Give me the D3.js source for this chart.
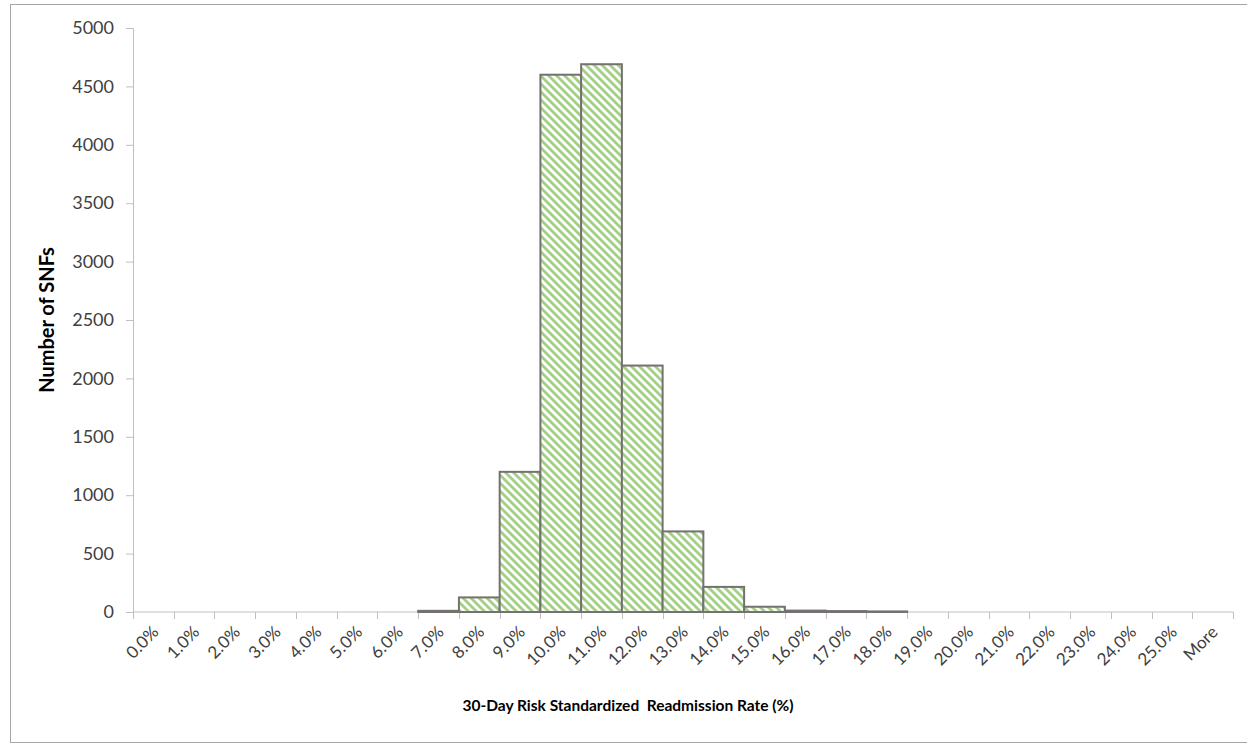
<!DOCTYPE html>
<html>
<head>
<meta charset="utf-8">
<script src="https://cdn.jsdelivr.net/npm/d3@7"></script>
<style>
  body { margin: 0; background: #fff; }
  #chart text { font-family: Lato, "Open Sans", sans-serif; fill: #404040; }
  #chart .title { fill: #000; font-weight: bold; }
</style>
</head>
<body>
<div id="chart"></div>
<script>
// Histogram bins (upper bound labels) and counts
var bins = ["0.0%", "1.0%", "2.0%", "3.0%", "4.0%", "5.0%", "6.0%", "7.0%", "8.0%",
  "9.0%", "10.0%", "11.0%", "12.0%", "13.0%", "14.0%", "15.0%", "16.0%", "17.0%",
  "18.0%", "19.0%", "20.0%", "21.0%", "22.0%", "23.0%", "24.0%", "25.0%", "More"];
var counts = [0, 0, 0, 0, 0, 0, 0, 10, 125,
  1200, 4600, 4690, 2110, 690, 215, 45, 12, 8,
  5, 0, 0, 0, 0, 0, 0, 0, 0];
var yTicks = [0, 500, 1000, 1500, 2000, 2500, 3000, 3500, 4000, 4500, 5000];

var W = 1247, H = 744;
var margin = { top: 28, right: 14, bottom: 132, left: 133 };
var width = W - margin.left - margin.right;
var height = H - margin.top - margin.bottom;

var svg = d3.select("#chart").append("svg")
    .attr("width", W)
    .attr("height", H);

// hatch fill (wide downward diagonal)
var pat = svg.append("defs").append("pattern")
    .attr("id", "hatch")
    .attr("patternUnits", "userSpaceOnUse")
    .attr("width", 8)
    .attr("height", 8);
pat.append("rect").attr("width", 8).attr("height", 8).attr("fill", "#fff");
pat.selectAll("path")
    .data(["M-2,-2L10,10", "M-2,6L2,10", "M6,-2L10,2"])
  .enter().append("path")
    .attr("d", function(d) { return d; })
    .attr("stroke", "#a3cf86")
    .attr("stroke-width", 2.8);

// chart area border
svg.append("rect")
    .attr("x", 10.5).attr("y", 4.5)
    .attr("width", 1240).attr("height", 738)
    .attr("fill", "none")
    .attr("stroke", "#a6a6a6");

var g = svg.append("g")
    .attr("transform", "translate(" + margin.left + "," + margin.top + ")");

var x = d3.scaleBand().domain(bins).range([0, width]).padding(0);
var y = d3.scaleLinear().domain([0, 5000]).range([height, 0]);

// y axis
var yAxis = g.append("g")
    .call(d3.axisLeft(y).tickValues(yTicks).tickFormat(d3.format("d"))
      .tickSize(7).tickPadding(12));
yAxis.selectAll("line, path").attr("stroke", "#bfbfbf");
yAxis.selectAll("text").style("font-size", "18px");

// x axis: ticks at category boundaries
var xg = g.append("g").attr("transform", "translate(0," + height + ")");
xg.append("line")
    .attr("x1", 0).attr("x2", width)
    .attr("stroke", "#bfbfbf");
xg.selectAll("line.tick")
    .data(d3.range(bins.length + 1))
  .enter().append("line")
    .attr("class", "tick")
    .attr("x1", function(i) { return Math.round(i * x.step()) + 0.5; })
    .attr("x2", function(i) { return Math.round(i * x.step()) + 0.5; })
    .attr("y1", 0).attr("y2", 7)
    .attr("stroke", "#bfbfbf");
xg.selectAll("text")
    .data(bins)
  .enter().append("text")
    .attr("transform", function(d) {
      return "translate(" + (x(d) + x.bandwidth() / 2 + 2) + ",17) rotate(-45)";
    })
    .attr("text-anchor", "end")
    .attr("dy", "0.35em")
    .style("font-size", "17px")
    .text(function(d) { return d; });

// bars
g.append("g").selectAll("rect")
    .data(bins.map(function(b, i) { return { bin: b, n: counts[i] }; })
      .filter(function(d) { return d.n > 0; }))
  .enter().append("rect")
    .attr("x", function(d) { return x(d.bin); })
    .attr("y", function(d) { return y(d.n); })
    .attr("width", x.bandwidth())
    .attr("height", function(d) { return height - y(d.n); })
    .attr("fill", "url(#hatch)")
    .attr("stroke", "#767171")
    .attr("stroke-width", 2);

// axis titles
svg.append("text")
    .attr("class", "title")
    .attr("transform", "translate(54," + (margin.top + height / 2) + ") rotate(-90)")
    .attr("text-anchor", "middle")
    .style("font-size", "20px")
    .text("Number of SNFs");

svg.append("text")
    .attr("class", "title")
    .attr("x", 628)
    .attr("y", 711)
    .attr("text-anchor", "middle")
    .style("font-size", "15.5px")
    .style("white-space", "pre")
    .text("30-Day Risk Standardized  Readmission Rate (%)");
</script>
</body>
</html>
